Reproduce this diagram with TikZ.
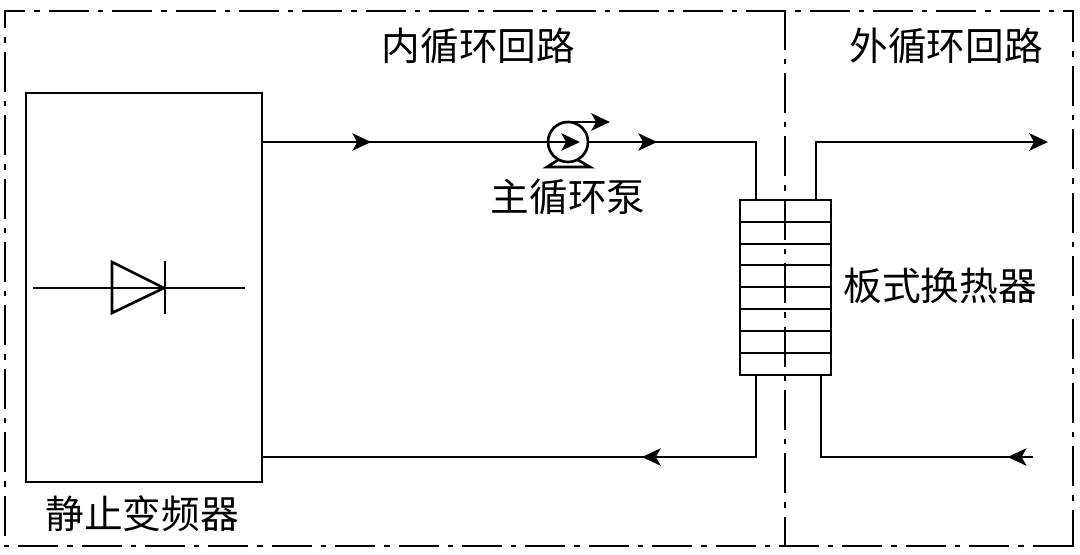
\documentclass[tikz,border=0pt]{standalone}
\usepackage{fontspec}
\setmainfont{Noto Sans CJK SC}
\newfontfamily\cjk{Noto Sans CJK SC}
\usetikzlibrary{decorations.markings,arrows.meta}
\tikzset{
 framepat/.style={line width=2.1pt,dash pattern=on 30pt off 6.75pt on 4.05pt off 6.75pt,dash phase=#1},
 pipe/.style={line width=2pt},
 thinbox/.style={line width=2pt,draw,inner sep=0pt,outer sep=0pt,anchor=north west},
 lbl/.style={font=\cjk\fontsize{29}{29}\selectfont,inner sep=0pt},
 flowtip/.tip={Stealth[length=14pt,width=13pt,inset=3.6pt]},
 arrowat/.style={postaction={decorate},decoration={markings,mark=at position #1 with {\arrow{flowtip}}}}
}
\begin{document}
\begin{tikzpicture}[x=0.75pt,y=-0.75pt]
\useasboundingbox (0,0) rectangle (1080,554);
\fill[white] (0,0) rectangle (1080,554);
% dash-dot frame
\draw[framepat=13.8pt] (3.7,11) -- (1074.3,11);
\draw[framepat=16.05pt] (5,9.7) -- (5,546);
\draw[framepat=36.75pt] (3.7,546) -- (1074.3,546);
\draw[framepat=5.55pt] (1073,9.7) -- (1073,547.3);
\draw[framepat=1.05pt] (785,11) -- (785,546);
% labels
\node[lbl] (t1) at (478.5,46) {内循环回路};
\node[lbl] (t2) at (946,46) {外循环回路};
\node[lbl] (t3) at (568,197) {主循环泵};
\node[lbl] (t4) at (940,286) {板式换热器};
\node[lbl] (t5) at (142,514) {静止变频器};
% converter
\node[thinbox,minimum width=177pt,minimum height=291.75pt] (vfd) at (26,93) {};
\coordinate (dl) at (33,288);
\coordinate (dr) at (245,288);
\draw[pipe] (dl) -- (dr);
\coordinate (da) at (112,262);
\coordinate (db) at (112,313);
\coordinate (dc) at (164,288);
\draw[pipe,line join=miter] (da) -- (db) -- (dc) -- cycle;
\draw[pipe] (165,261) -- (165,314);
% pump
\node[draw,pipe,circle,inner sep=0pt,outer sep=0pt,minimum size=30pt] (pump) at (568,142) {};
\coordinate (pin) at (580,142);
\coordinate (po0) at (568,122);
\coordinate (po1) at (610,122);
\draw[pipe,-{flowtip}] (pump.west) -- (pin);
\draw[pipe,-{flowtip}] (po0) -- (po1);
\draw[pipe,line join=miter] (558,160) -- (547,167) -- (590,167) -- (578,160);
% heat exchanger
\node[thinbox,minimum width=68.25pt,minimum height=131.25pt] (hx) at (740,200) {};
\foreach \yy in {222,244,265,287,309,331,353}{
  \draw[pipe] (740,\yy) -- (831,\yy);
}
% pipes
\coordinate (v1) at (262,142);
\coordinate (v2) at (262,457);
\coordinate (hxa) at (756,200);
\coordinate (hxb) at (816,200);
\coordinate (hxc) at (756,375);
\coordinate (hxd) at (821,375);
\coordinate (cA) at (756,142);
\coordinate (cB) at (816,142);
\coordinate (cC) at (756,457);
\coordinate (cD) at (821,457);
\coordinate (oOut) at (1048,142);
\coordinate (oIn) at (1033,457);
\draw[pipe,arrowat=81.8pt] (v1) -- (pump.west);
\draw[pipe,line join=miter,arrowat=51.8pt] (pump.east) -- (cA) -- (hxa);
\draw[pipe,line join=miter,-{flowtip}] (hxb) -- (cB) -- (oOut);
\draw[pipe,line join=miter,arrowat=147pt] (hxc) -- (cC) -- (v2);
\draw[pipe,line join=miter,arrowat=19pt] (oIn) -- (cD) -- (hxd);
\end{tikzpicture}
\end{document}
